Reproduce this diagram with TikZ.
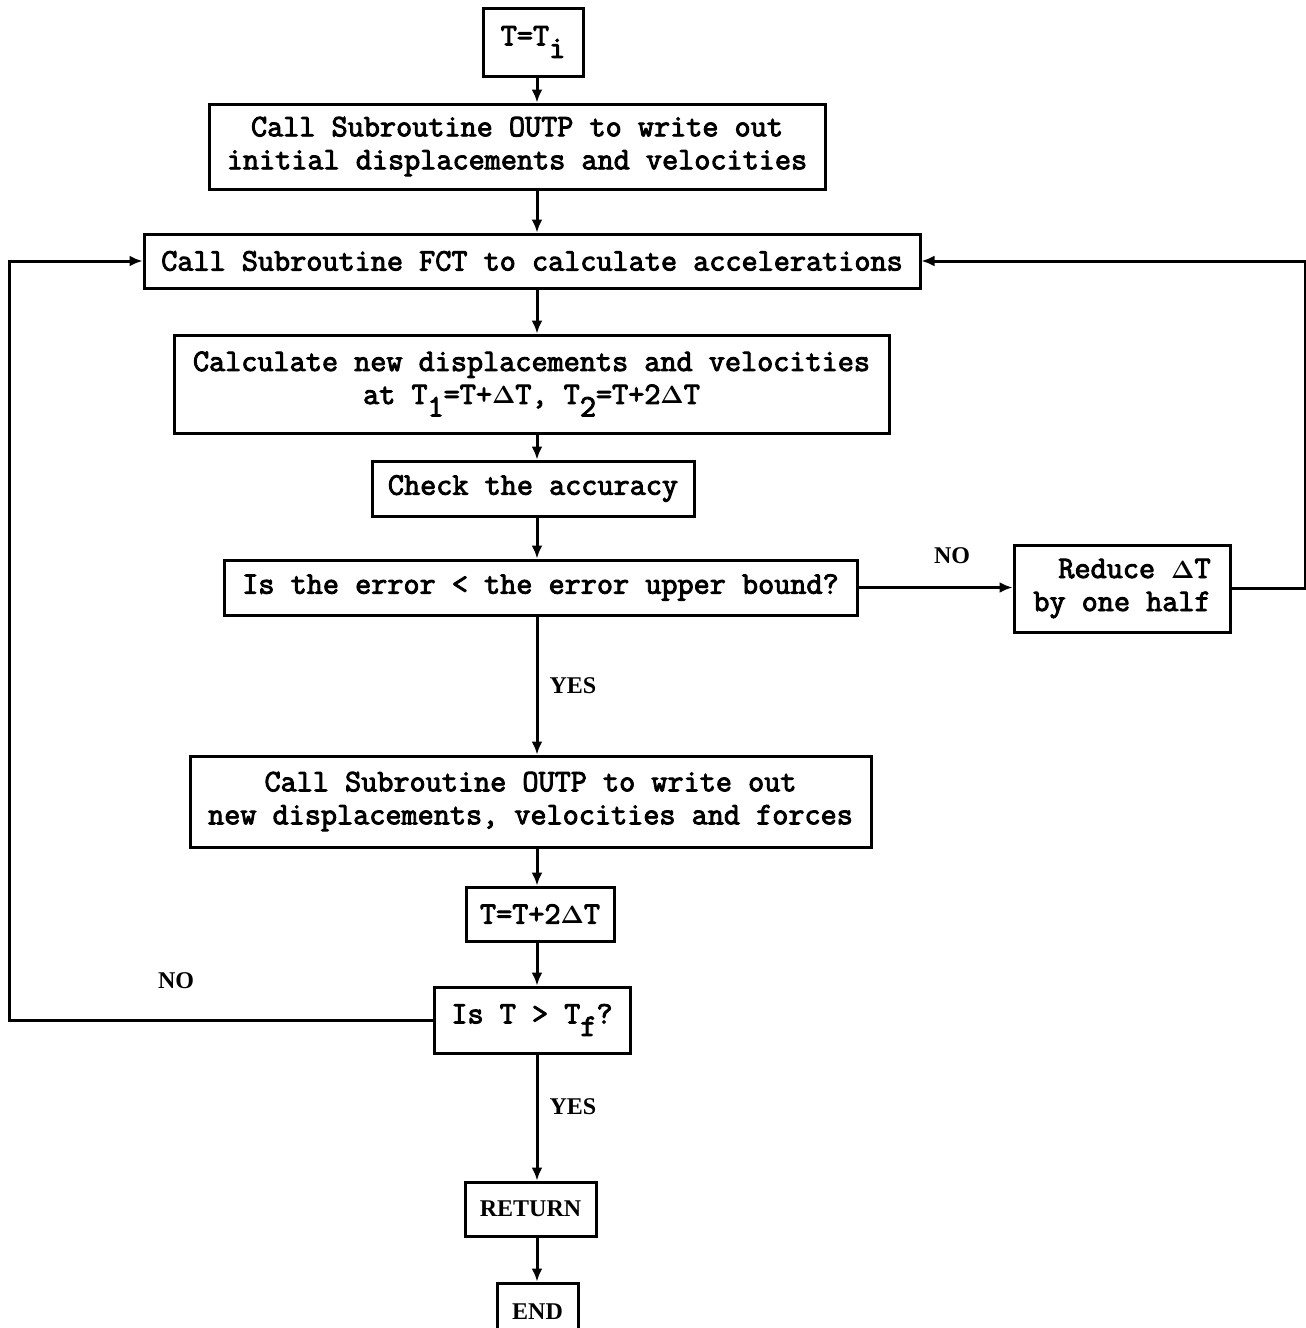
\documentclass[tikz,border=0pt]{standalone}
\usepackage{fontspec}
\usepackage{amsmath}
\newfontfamily\labfont{Liberation Serif}
\newfontfamily\twfont{Latin Modern Mono}[FakeBold=3]
\usetikzlibrary{arrows.meta}
\newcommand\dT{\mbox{\boldmath$\Delta$}}
\newcommand\lo[1]{\raisebox{-0.4em}{#1}}
\begin{document}
\begin{tikzpicture}[x=1pt,y=-1pt,
  box/.style={draw,line width=3pt,inner sep=0pt,align=center,
    font=\fontsize{31.3}{33}\selectfont\twfont},
  sbox/.style={draw,line width=3pt,inner sep=0pt,align=center,
    font=\fontsize{24}{26}\selectfont\labfont\bfseries},
  arr/.style={line width=3pt,-{Latex[length=13pt,width=11pt]}},
  lab/.style={font=\fontsize{24}{26}\selectfont\labfont\bfseries}]
\clip (0,0) rectangle (1306,1328);
\fill[white] (0,0) rectangle (1306,1328);
\coordinate (sp) at (537,0);
\coordinate (rx) at (1305,0);
\coordinate (lx) at (9,0);
\node[box,minimum width=100pt,minimum height=68pt] (ti) at (533,42) {T=T\lo{i}};
\node[box,minimum width=616pt,minimum height=85pt] (o1) at (517,146.5) {Call Subroutine OUTP to write out\\initial displacements and velocities};
\node[box,minimum width=776pt,minimum height=54pt] (fct) at (532,261) {Call Subroutine FCT to calculate accelerations};
\node[box,minimum width=715pt,minimum height=98pt] (calc) at (531.5,384) {Calculate new displacements and velocities\\at T\lo{1}=T+\dT T, T\lo{2}=T+2\dT T};
\node[box,minimum width=322pt,minimum height=55pt] (chk) at (533,488.5) {Check the accuracy};
\node[box,minimum width=633pt,minimum height=55pt] (err) at (540.5,587.5) {Is the error < the error upper bound?};
\node[box,minimum width=216pt,minimum height=87pt,align=right] (red) at (1122,588.5) {Reduce \dT T\\by one half};
\node[box,minimum width=681pt,minimum height=91pt] (o2) at (530.5,801.5) {Call Subroutine OUTP to write out\\new displacements, velocities and forces};
\node[box,minimum width=148pt,minimum height=54pt] (tt) at (540,914) {T=T+2\dT T};
\node[box,minimum width=196pt,minimum height=66pt] (ist) at (532,1020) {Is T > T\lo{f}?};
\node[sbox,minimum width=131pt,minimum height=54pt] (ret) at (530.5,1209) {RETURN};
\node[sbox,minimum width=81pt,minimum height=57pt] (end) at (537.5,1311.5) {END};
\node[lab] (no1) at (952,556) {NO};
\node[lab] (yes1) at (573,686) {YES};
\node[lab] (no2) at (176,981) {NO};
\node[lab] (yes2) at (573,1107) {YES};
\draw[arr] (ti.south -| sp) -- (o1.north -| sp);
\draw[arr] (o1.south -| sp) -- (fct.north -| sp);
\draw[arr] (fct.south -| sp) -- (calc.north -| sp);
\draw[arr] (calc.south -| sp) -- (chk.north -| sp);
\draw[arr] (chk.south -| sp) -- (err.north -| sp);
\draw[arr] (err.south -| sp) -- (o2.north -| sp);
\draw[arr] (o2.south -| sp) -- (tt.north -| sp);
\draw[arr] (tt.south -| sp) -- (ist.north -| sp);
\draw[arr] (ist.south -| sp) -- (ret.north -| sp);
\draw[arr] (ret.south -| sp) -- (end.north -| sp);
\draw[arr] (err.east) -- (err.east -| red.west);
\draw[arr] (red.east) -- (red.east -| rx) |- (fct.east);
\draw[arr] (ist.west) -- (ist.west -| lx) |- (fct.west);
\end{tikzpicture}
\end{document}
